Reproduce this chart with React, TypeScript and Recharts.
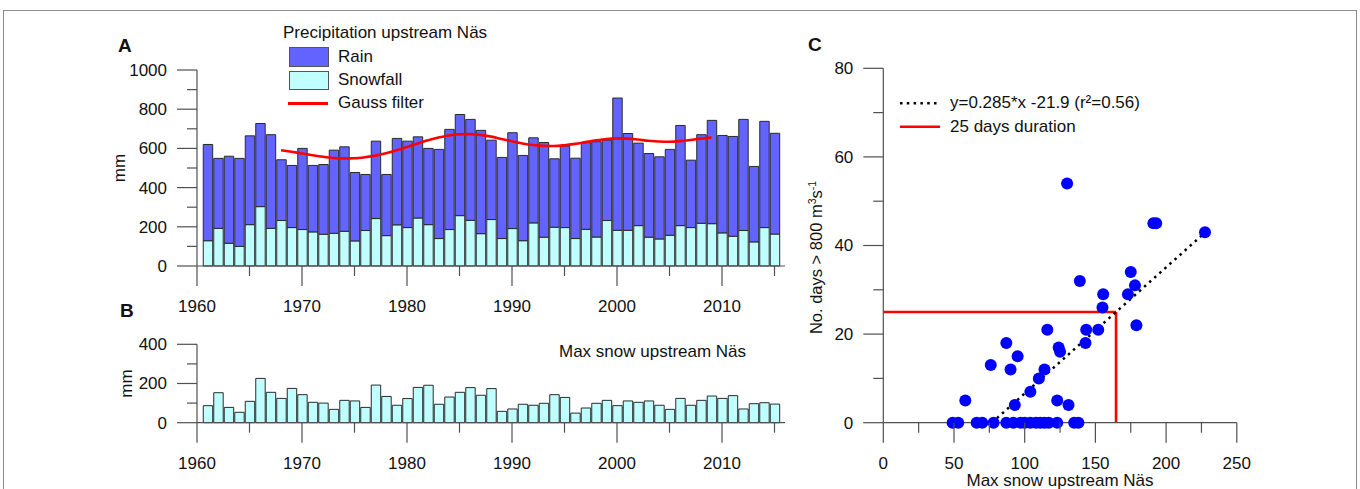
import React from "react";
import {
  ComposedChart,
  ScatterChart,
  Bar,
  Line,
  Scatter,
  XAxis,
  YAxis,
  Legend,
  ReferenceLine,
} from "recharts";

// panel A + B: yearly series
const years = [
  1961, 1962, 1963, 1964, 1965, 1966, 1967, 1968, 1969, 1970, 1971, 1972, 1973, 1974, 1975, 1976, 1977, 1978, 1979,
  1980, 1981, 1982, 1983, 1984, 1985, 1986, 1987, 1988, 1989, 1990, 1991, 1992, 1993, 1994, 1995, 1996, 1997, 1998,
  1999, 2000, 2001, 2002, 2003, 2004, 2005, 2006, 2007, 2008, 2009, 2010, 2011, 2012, 2013, 2014, 2015,
];
const rain = [
  491, 357, 444, 449, 453, 424, 478, 310, 317, 414, 339, 356, 424, 431, 349, 286, 395, 312, 441, 441, 414, 389, 455,
  511, 516, 515, 527, 405, 414, 489, 435, 434, 483, 349, 416, 410, 442, 486, 410, 675, 494, 421, 427, 419, 438, 511,
  344, 452, 527, 497, 509, 567, 385, 542, 514,
];
const snowfall = [
  129, 192, 116, 100, 211, 303, 192, 232, 196, 186, 174, 162, 167, 177, 128, 181, 242, 155, 210, 196, 245, 211, 140,
  186, 257, 233, 165, 237, 140, 191, 129, 220, 147, 198, 196, 140, 187, 148, 232, 182, 182, 206, 147, 138, 157, 206,
  196, 218, 216, 169, 152, 181, 123, 196, 163,
];
const gaussFilter = [
  null, null, null, null, null, null, null,
  591, 583, 574, 565, 557, 551, 549, 550, 555, 563, 575, 590, 607, 625, 642, 656, 666, 672, 673, 669, 660, 648, 636,
  625, 617, 613, 612, 616, 623, 632, 641, 648, 651, 650, 645, 639, 635, 634, 637, 643, 650, 656,
  null, null, null, null, null, null,
];
const maxSnow = [
  87, 153, 78, 53, 109, 226, 155, 124, 175, 143, 104, 100, 68, 114, 111, 78, 192, 134, 89, 123, 180, 191, 94, 131,
  155, 179, 140, 174, 58, 70, 94, 89, 99, 143, 129, 49, 75, 99, 114, 87, 111, 104, 111, 89, 68, 124, 89, 114, 136,
  124, 138, 70, 97, 102, 95,
];
const yearTicks = [1960, 1965, 1970, 1975, 1980, 1985, 1990, 1995, 2000, 2005, 2010, 2015];
const precipTicks = [0, 100, 200, 300, 400, 500, 600, 700, 800, 900, 1000];
const maxSnowTicks = [0, 100, 200, 300, 400];

// panel C: max snow vs. days above 800 m3/s
const snowC = [
  49, 53, 66, 70, 78, 87, 92, 97, 100, 104, 108, 111, 114, 117, 123, 135, 138,
  58, 76, 87, 95, 90, 93, 104, 110, 114, 116, 123, 124, 125, 131, 139, 143, 143.5, 152, 155, 155.5, 173, 175, 178,
  179, 130, 191, 193, 227.5,
];
const daysC = [
  0, 0, 0, 0, 0, 0, 0, 0, 0, 0, 0, 0, 0, 0, 0, 0, 0,
  5, 13, 18, 15, 12, 4, 7, 10, 12, 21, 5, 17, 16, 4, 32, 18, 21, 21, 26, 29, 29, 34, 31, 22, 54, 45, 45, 43,
];
const snowTicksC = [0, 25, 50, 75, 100, 125, 150, 175, 200, 225, 250];
const dayTicks = [0, 10, 20, 30, 40, 50, 60, 70, 80];
const regressionSnow = [76.8, 227.5];
const regressionDays = [0, 42.9];
const durationSnow = [0, 164.6, 164.6];
const durationDays = [25, 25, 0];

const precipData = years.map((year, i) => ({
  year,
  snow: snowfall[i],
  rain: rain[i],
  gauss: gaussFilter[i],
}));
const maxSnowData = years.map((year, i) => ({ year, snow: maxSnow[i] }));
const scatterData = snowC.map((x, i) => ({ x, y: daysC[i] }));

const FONT = "'Liberation Sans', Arial, Helvetica, sans-serif";
const AXIS = "#505050";
const TEXT = "#111";
const RAIN = "#6363FF";
const SNOW = "#C0FFFF";
const FS = 17;

const bottomTick = (isMajor: (v: number) => boolean) => (props: any) => {
  const { x, y, payload } = props;
  const major = isMajor(payload.value);
  return (
    <g>
      <line x1={x} x2={x} y1={y} y2={y + (major ? 20 : 10)} stroke={AXIS} strokeWidth={1.2} />
      {major && (
        <text x={x} y={y + 40} dy="0.35em" textAnchor="middle" fontSize={FS} fontFamily={FONT} fill={TEXT}>
          {payload.value}
        </text>
      )}
    </g>
  );
};

const leftTick = (isMajor: (v: number) => boolean) => (props: any) => {
  const { x, y, payload } = props;
  const major = isMajor(payload.value);
  return (
    <g>
      <line x1={x - (major ? 20 : 10)} x2={x} y1={y} y2={y} stroke={AXIS} strokeWidth={1.2} />
      {major && (
        <text x={x - 30} y={y} dy="0.35em" textAnchor="end" fontSize={FS} fontFamily={FONT} fill={TEXT}>
          {payload.value}
        </text>
      )}
    </g>
  );
};

const yearTick = bottomTick((v) => v % 10 === 0);

const mmLabel = (dx: number) => (props: any) => {
  const vb = props.viewBox || {};
  const cx = vb.x + vb.width - dx;
  const cy = vb.y + vb.height / 2;
  return (
    <text
      x={cx}
      y={cy}
      dy="0.35em"
      textAnchor="middle"
      fontSize={FS}
      fontFamily={FONT}
      fill={TEXT}
      transform={`rotate(-90 ${cx} ${cy})`}
    >
      mm
    </text>
  );
};

const daysLabel = (props: any) => {
  const vb = props.viewBox || {};
  const cx = vb.x + vb.width - 66.6;
  const cy = vb.y + vb.height / 2 + 12;
  return (
    <text
      x={cx}
      y={cy}
      dy="0.35em"
      textAnchor="middle"
      fontSize={16.5}
      fontFamily={FONT}
      fill={TEXT}
      transform={`rotate(-90 ${cx} ${cy})`}
    >
      No. days &gt; 800 m
      <tspan dy={-6} fontSize={10.5}>3</tspan>
      <tspan dy={6}>s</tspan>
      <tspan dy={-6} fontSize={10.5}>-1</tspan>
    </text>
  );
};

const snowAxisLabel = (props: any) => {
  const vb = props.viewBox || {};
  return (
    <text
      x={vb.x + vb.width / 2}
      y={vb.y + 57.3}
      dy="0.35em"
      textAnchor="middle"
      fontSize={FS}
      fontFamily={FONT}
      fill={TEXT}
    >
      Max snow upstream Näs
    </text>
  );
};

const legendText: React.CSSProperties = {
  position: "absolute",
  fontSize: FS,
  fontFamily: FONT,
  color: TEXT,
  lineHeight: "18px",
  whiteSpace: "nowrap",
};

function PrecipLegend() {
  return (
    <div style={{ position: "relative", width: 260, height: 110 }}>
      <div style={{ ...legendText, left: 0, top: 0 }}>Precipitation upstream Näs</div>
      <div style={{ position: "absolute", left: 6, top: 23, width: 38, height: 18, background: RAIN, border: "1px solid #555" }} />
      <div style={{ ...legendText, left: 55, top: 23.5 }}>Rain</div>
      <div style={{ position: "absolute", left: 6, top: 47, width: 38, height: 17, background: SNOW, border: "1px solid #555" }} />
      <div style={{ ...legendText, left: 55, top: 47 }}>Snowfall</div>
      <div style={{ position: "absolute", left: 5, top: 78, width: 40, height: 2.6, background: "#FF0000" }} />
      <div style={{ ...legendText, left: 55, top: 70 }}>Gauss filter</div>
    </div>
  );
}

function ScatterLegend() {
  return (
    <div style={{ position: "relative", width: 300, height: 50 }}>
      <svg width={50} height={50} style={{ position: "absolute", left: 0, top: 0 }}>
        <line x1={5} x2={45} y1={13.3} y2={13.3} stroke="#000" strokeWidth={2.5} strokeDasharray="2.5 4.3" />
        <line x1={5} x2={45} y1={36.7} y2={36.7} stroke="#FF0000" strokeWidth={2.5} />
      </svg>
      <div style={{ ...legendText, left: 55, top: 4.3 }}>y=0.285*x -21.9 (r²=0.56)</div>
      <div style={{ ...legendText, left: 55, top: 27.7 }}>25 days duration</div>
    </div>
  );
}

const panelLetter: React.CSSProperties = {
  position: "absolute",
  fontSize: 19,
  fontWeight: "bold",
  fontFamily: FONT,
  color: TEXT,
  lineHeight: "20px",
};

export default function App() {
  return (
    <div
      style={{
        position: "absolute",
        left: 0,
        top: 0,
        width: 1360,
        height: 489,
        background: "#fff",
        overflow: "hidden",
        fontFamily: FONT,
      }}
    >
      <div
        style={{
          position: "absolute",
          left: 3,
          top: 10,
          width: 1352,
          height: 520,
          border: "1px solid #8c8c8c",
        }}
      />
      <div style={{ ...panelLetter, left: 118, top: 36 }}>A</div>
      <div style={{ ...panelLetter, left: 120, top: 301 }}>B</div>
      <div style={{ ...panelLetter, left: 808, top: 35 }}>C</div>
      <div style={{ ...legendText, left: 559, top: 343 }}>Max snow upstream Näs</div>

      {/* A: precipitation */}
      <div style={{ position: "absolute", left: 100, top: 20 }}>
        <ComposedChart
          width={720}
          height={300}
          data={precipData}
          margin={{ top: 50, right: 35, bottom: 24, left: 37 }}
        >
          <XAxis
            dataKey="year"
            type="number"
            domain={[1960, 2016]}
            ticks={yearTicks}
            interval={0}
            height={30}
            tickSize={0}
            tickMargin={0}
            tickLine={false}
            axisLine={{ stroke: AXIS, strokeWidth: 1.2 }}
            tick={yearTick}
            allowDataOverflow
          />
          <YAxis
            type="number"
            domain={[0, 1000]}
            ticks={precipTicks}
            interval={0}
            width={60}
            tickSize={0}
            tickMargin={0}
            tickLine={false}
            axisLine={{ stroke: AXIS, strokeWidth: 1.2 }}
            tick={leftTick((v) => v % 200 === 0)}
            label={{ content: mmLabel(78.3) }}
          />
          <Legend
            layout="vertical"
            align="center"
            verticalAlign="middle"
            wrapperStyle={{ left: 183, top: 4, width: 260, height: 110 }}
            content={() => <PrecipLegend />}
          />
          <Bar dataKey="snow" stackId="p" fill={SNOW} stroke="#2a2a2a" strokeWidth={1} barSize={10.5} isAnimationActive={false} />
          <Bar dataKey="rain" stackId="p" fill={RAIN} stroke="#2a2a2a" strokeWidth={1} barSize={10.5} isAnimationActive={false} />
          <Line
            dataKey="gauss"
            type="monotone"
            stroke="#FF0000"
            strokeWidth={2.6}
            dot={false}
            activeDot={false}
            connectNulls={false}
            isAnimationActive={false}
          />
        </ComposedChart>
      </div>

      {/* B: max snow */}
      <div style={{ position: "absolute", left: 100, top: 330 }}>
        <ComposedChart
          width={720}
          height={159}
          data={maxSnowData}
          margin={{ top: 14.3, right: 35, bottom: 36.3, left: 37 }}
        >
          <XAxis
            dataKey="year"
            type="number"
            domain={[1960, 2016]}
            ticks={yearTicks}
            interval={0}
            height={30}
            tickSize={0}
            tickMargin={0}
            tickLine={false}
            axisLine={{ stroke: AXIS, strokeWidth: 1.2 }}
            tick={yearTick}
            allowDataOverflow
          />
          <YAxis
            type="number"
            domain={[0, 400]}
            ticks={maxSnowTicks}
            interval={0}
            width={60}
            tickSize={0}
            tickMargin={0}
            tickLine={false}
            axisLine={{ stroke: AXIS, strokeWidth: 1.2 }}
            tick={leftTick((v) => v % 200 === 0)}
            label={{ content: mmLabel(71.3) }}
          />
          <Bar dataKey="snow" fill={SNOW} stroke="#2a2a2a" strokeWidth={1} barSize={10.5} isAnimationActive={false} />
        </ComposedChart>
      </div>

      {/* C: scatter */}
      <div style={{ position: "absolute", left: 760, top: 40 }}>
        <ScatterChart width={600} height={449} margin={{ top: 28.3, right: 123.2, bottom: 36.3, left: 63.3 }}>
          <XAxis
            dataKey="x"
            type="number"
            domain={[0, 250]}
            ticks={snowTicksC}
            interval={0}
            height={30}
            tickSize={0}
            tickMargin={0}
            tickLine={false}
            axisLine={{ stroke: AXIS, strokeWidth: 1.2 }}
            tick={bottomTick((v) => v % 50 === 0)}
            label={{ content: snowAxisLabel }}
          />
          <YAxis
            dataKey="y"
            type="number"
            domain={[0, 80]}
            ticks={dayTicks}
            interval={0}
            width={60}
            tickSize={0}
            tickMargin={0}
            tickLine={false}
            axisLine={{ stroke: AXIS, strokeWidth: 1.2 }}
            tick={leftTick((v) => v % 20 === 0)}
            label={{ content: daysLabel }}
          />
          <Legend
            layout="vertical"
            align="center"
            verticalAlign="middle"
            wrapperStyle={{ left: 135, top: 50, width: 300, height: 50 }}
            content={() => <ScatterLegend />}
          />
          <ReferenceLine
            segment={[
              { x: durationSnow[0], y: durationDays[0] },
              { x: durationSnow[1], y: durationDays[1] },
            ]}
            stroke="#FF0000"
            strokeWidth={2.6}
            ifOverflow="visible"
          />
          <ReferenceLine
            segment={[
              { x: durationSnow[1], y: durationDays[1] },
              { x: durationSnow[2], y: durationDays[2] },
            ]}
            stroke="#FF0000"
            strokeWidth={2.6}
            ifOverflow="visible"
          />
          <Scatter
            data={scatterData}
            isAnimationActive={false}
            shape={(p: any) => <circle cx={p.cx} cy={p.cy} r={6} fill="#0000FF" />}
          />
          <ReferenceLine
            segment={[
              { x: regressionSnow[0], y: regressionDays[0] },
              { x: regressionSnow[1], y: regressionDays[1] },
            ]}
            stroke="#000"
            strokeWidth={2.5}
            strokeDasharray="2.5 4.3"
            ifOverflow="visible"
          />
        </ScatterChart>
      </div>
    </div>
  );
}
